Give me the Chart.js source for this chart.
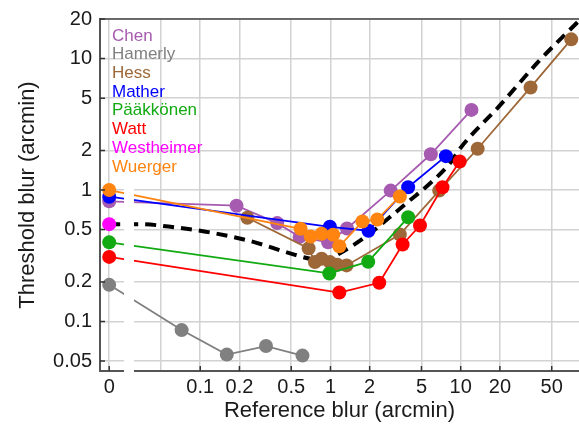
<!DOCTYPE html>
<html>
<head>
<meta charset="utf-8">
<script src="https://cdn.jsdelivr.net/npm/chart.js@4/dist/chart.umd.min.js"></script>
<style>
  body { margin: 0; background: #fff; }
  canvas { display: block; }
</style>
</head>
<body>
<canvas id="blur-chart" width="579" height="434"></canvas>
<script>
// zero blur has no place on a log axis, so those points sit left of an axis break
const ZERO_AT = 0.02;
const BREAK_FROM = 0.026;
const BREAK_TO = 0.031;

const xTicks = [0, 0.05, 0.1, 0.2, 0.5, 1, 2, 5, 10, 20, 50];
const yTicks = [0.05, 0.1, 0.2, 0.5, 1, 2, 5, 10, 20];

const chenX = [0, 0.19, 0.39, 0.58, 0.96, 1.34, 2.9, 5.9, 12.1];
const chenY = [0.82, 0.76, 0.56, 0.44, 0.40, 0.51, 0.99, 1.87, 4.07];

const hamerlyX = [0, 0.072, 0.16, 0.32, 0.61];
const hamerlyY = [0.19, 0.086, 0.056, 0.065, 0.055];

const hessX = [0.23, 0.68, 0.76, 0.855, 0.99, 1.13, 1.33, 3.41, 6.84, 13.5, 34.4, 70.6];
const hessY = [0.615, 0.36, 0.283, 0.30, 0.283, 0.27, 0.267, 0.459, 0.99, 2.06, 6.03, 14.0];

const matherX = [0, 0.99, 1.96, 3.95, 7.7];
const matherY = [0.89, 0.525, 0.49, 1.05, 1.81];

const paakkonenX = [0, 0.98, 1.95, 3.95];
const paakkonenY = [0.40, 0.232, 0.285, 0.62];

const wattX = [0, 1.17, 2.37, 3.58, 4.87, 7.25, 9.83];
const wattY = [0.31, 0.166, 0.197, 0.385, 0.537, 1.05, 1.65];

const westheimerX = [0];
const westheimerY = [0.55];

const wuergerX = [0, 0.59, 0.705, 0.855, 1.05, 1.17, 1.76, 2.29, 3.41];
const wuergerY = [1.0, 0.507, 0.443, 0.465, 0.457, 0.373, 0.576, 0.597, 0.893];

// model curve through all the studies
const modelX = [0, 0.034, 0.064, 0.12, 0.24, 0.49, 0.7, 0.85, 1.0, 1.4, 2.0, 2.85, 4.05, 5.8, 8.2, 10, 20, 40, 81];
const modelY = [0.55, 0.55, 0.52, 0.475, 0.41, 0.33, 0.30, 0.295, 0.305, 0.365, 0.465, 0.62, 0.83, 1.12, 1.58, 2.1, 4.4, 9.6, 19.4];

const studies = [
  {name: 'Chen', x: chenX, y: chenY, color: '#a65bb0'},
  {name: 'Hamerly', x: hamerlyX, y: hamerlyY, color: '#808080'},
  {name: 'Hess', x: hessX, y: hessY, color: '#9e6738'},
  {name: 'Mather', x: matherX, y: matherY, color: '#0000ff'},
  {name: 'Pääkkönen', x: paakkonenX, y: paakkonenY, color: '#12aa12'},
  {name: 'Watt', x: wattX, y: wattY, color: '#ff0000'},
  {name: 'Westheimer', x: westheimerX, y: westheimerY, color: '#ff00ff'},
  {name: 'Wuerger', x: wuergerX, y: wuergerY, color: '#ff8410'}
];

const toPoints = (xs, ys) => xs.map((x, i) => ({x: x === 0 ? ZERO_AT : x, y: ys[i]}));

const datasets = studies.map((s, i) => ({
  label: s.name,
  data: toPoints(s.x, s.y),
  borderColor: s.color,
  backgroundColor: s.color,
  pointBackgroundColor: s.color,
  borderWidth: 1.8,
  pointRadius: 7,
  pointBorderWidth: 0,
  order: studies.length - i
}));
datasets.push({
  label: 'model',
  data: toPoints(modelX, modelY),
  borderColor: '#000',
  borderWidth: 4,
  borderDash: [11, 7],
  pointRadius: 0,
  cubicInterpolationMode: 'monotone',
  order: 20
});

const frame = {
  id: 'frame',
  afterDatasetsDraw(chart) {
    const {ctx, chartArea: a, scales: {x, y}} = chart;
    ctx.save();
    // axis break
    const b0 = x.getPixelForValue(BREAK_FROM), b1 = x.getPixelForValue(BREAK_TO);
    ctx.fillStyle = '#fff';
    ctx.fillRect(b0, a.top + 1, b1 - b0, a.bottom - a.top + 2);
    // top border
    ctx.strokeStyle = '#444';
    ctx.lineWidth = 1.5;
    ctx.beginPath();
    ctx.moveTo(a.left, a.top);
    ctx.lineTo(a.right, a.top);
    ctx.stroke();
    // inward tick marks
    ctx.strokeStyle = '#333';
    ctx.beginPath();
    xTicks.forEach(v => {
      if (v === 0.05) return;
      const px = x.getPixelForValue(v === 0 ? ZERO_AT : v);
      ctx.moveTo(px, a.bottom);
      ctx.lineTo(px, a.bottom - 5);
    });
    yTicks.forEach(v => {
      const py = y.getPixelForValue(v);
      ctx.moveTo(a.left, py);
      ctx.lineTo(a.left + 5, py);
    });
    ctx.stroke();
    // study names
    ctx.font = '17px "Liberation Sans", Arial, sans-serif';
    ctx.textBaseline = 'middle';
    studies.forEach((s, i) => {
      ctx.fillStyle = s.color;
      ctx.fillText(s.name, 112, 36 + i * 18.7);
    });
    ctx.restore();
  }
};

Chart.defaults.font.family = '"Liberation Sans", Arial, sans-serif';
Chart.defaults.color = '#1a1a1a';

new Chart(document.getElementById('blur-chart').getContext('2d'), {
  type: 'line',
  data: {datasets},
  options: {
    responsive: false,
    animation: false,
    devicePixelRatio: 1,
    layout: {autoPadding: false, padding: {top: 19, right: 0, left: 0, bottom: 0}},
    plugins: {legend: {display: false}, tooltip: {enabled: false}},
    scales: {
      x: {
        type: 'logarithmic',
        min: 0.017,
        max: 81,
        afterBuildTicks: axis => { axis.ticks = xTicks.map(v => ({value: v === 0 ? ZERO_AT : v})); },
        afterFit: axis => {
          axis.height = 63;
          axis.paddingLeft = 0;
          axis.paddingRight = 0;
        },
        ticks: {
          autoSkip: false,
          maxRotation: 0,
          padding: 4,
          font: {size: 20},
          callback: v => v === ZERO_AT ? '0' : (v === 0.05 ? '' : String(v))
        },
        grid: {color: '#d2d2d2', lineWidth: 1.5, drawTicks: false},
        border: {color: '#555', width: 2},
        title: {display: true, text: 'Reference blur (arcmin)', font: {size: 22}, padding: {top: 0, bottom: 10}}
      },
      y: {
        type: 'logarithmic',
        min: 0.042,
        max: 20,
        afterBuildTicks: axis => { axis.ticks = yTicks.map(v => ({value: v})); },
        afterFit: axis => {
          axis.width = 100;
          axis.paddingTop = 0;
          axis.paddingBottom = 0;
        },
        ticks: {
          autoSkip: false,
          padding: 8,
          font: {size: 20},
          callback: v => String(v)
        },
        grid: {color: '#d2d2d2', lineWidth: 1.5, drawTicks: false},
        border: {color: '#555', width: 2},
        title: {display: true, text: 'Threshold blur (arcmin)', font: {size: 22}, padding: {top: 15, bottom: 0}}
      }
    }
  },
  plugins: [frame]
});
</script>
</body>
</html>
